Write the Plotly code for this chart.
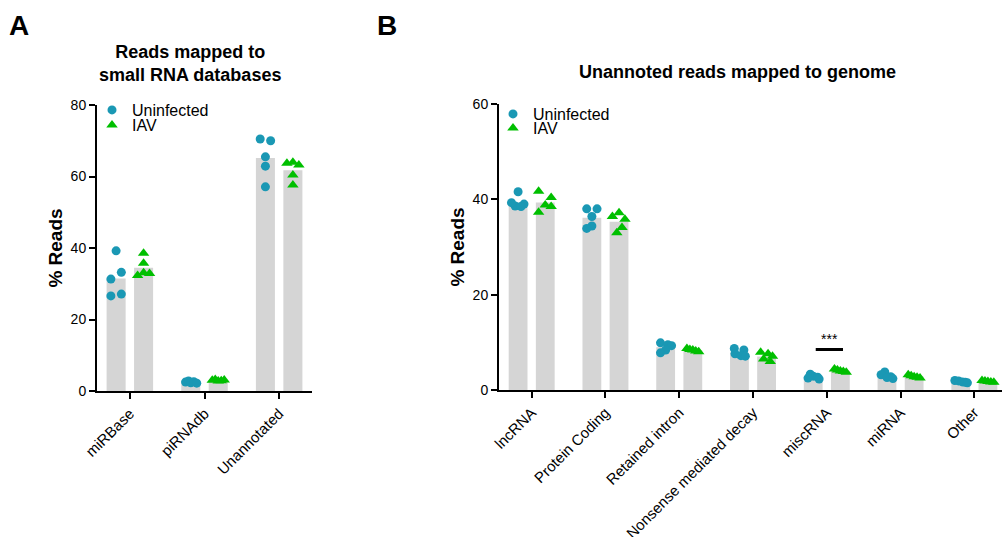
import numpy as np
import plotly.graph_objects as go

# ---------------- data ----------------
cats_a = ["miRBase", "piRNAdb", "Unannotated"]
uninf_a = [
    [39.2, 33.2, 31.3, 26.6, 27.1],
    [2.5, 2.8, 2.3, 2.6, 2.2],
    [70.5, 70.0, 65.5, 62.9, 57.1],
]
iav_a = [
    [38.5, 35.7, 32.3, 33.1, 32.9],
    [3.0, 3.2, 2.8, 2.9, 3.1],
    [63.7, 64.0, 63.2, 60.4, 57.6],
]

cats_b = ["lncRNA", "Protein Coding", "Retained intron", "Nonsense mediated decay",
          "miscRNA", "miRNA", "Other"]
uninf_b = [
    [41.6, 38.6, 39.0, 39.3, 38.5],
    [38.0, 38.0, 36.4, 34.4, 33.9],
    [9.9, 9.5, 9.3, 8.4, 7.8],
    [8.7, 8.4, 7.6, 7.2, 7.1],
    [3.3, 2.9, 2.7, 2.5, 2.3],
    [3.8, 3.2, 2.8, 2.6, 2.4],
    [2.0, 1.9, 1.7, 1.6, 1.5],
]
iav_b = [
    [41.7, 40.4, 38.8, 38.5, 37.3],
    [36.4, 37.2, 35.8, 34.1, 33.0],
    [8.7, 8.5, 8.4, 8.2, 8.0],
    [7.9, 7.6, 7.1, 6.5, 6.0],
    [4.4, 4.2, 4.0, 3.9, 3.7],
    [3.2, 3.0, 2.8, 2.7, 2.5],
    [2.0, 1.9, 1.8, 1.7, 1.6],
]
yticks_a = [0, 20, 40, 60, 80]
yticks_b = [0, 20, 40, 60]
sig_label = "***"
sig_cat = 4
sig_y = 8.5

# ---------------- style ----------------
FONT = "Liberation Sans, Arial, sans-serif"
C_UN = "#1a98b4"
C_IAV = "#00bf00"
C_BAR = "#d5d5d5"
OFF = 0.184
BW = 0.255
jit_a_u = [[0, 0.07, -0.07, -0.07, 0.07], [-0.07, -0.03, 0.0, 0.04, 0.08], [-0.07, 0.07, 0, 0, 0]]
jit_a_i = [[0, 0, -0.08, 0, 0.08], [-0.08, -0.04, 0.0, 0.04, 0.08], [-0.08, 0, 0.08, 0, 0]]
jit_b_u = [[0.0, -0.04, 0.08, -0.09, 0.04], [-0.07, 0.07, 0, 0, -0.07], [-0.07, 0.03, 0.08, 0.0, -0.07],
           [-0.07, 0.06, -0.06, 0.02, 0.08], [-0.04, 0.0, 0.06, -0.07, 0.08], [-0.03, -0.08, 0.05, 0.0, 0.08],
           [-0.08, -0.03, 0.02, 0.06, 0.09]]
jit_b_i = [[-0.09, 0.08, 0.0, 0.08, -0.09], [-0.09, 0.0, 0.08, 0.04, -0.03], [-0.08, -0.04, 0.0, 0.04, 0.08],
           [-0.08, 0.02, 0.08, -0.04, 0.05], [-0.08, -0.04, 0.0, 0.04, 0.08], [-0.08, -0.04, 0.0, 0.04, 0.08],
           [-0.08, -0.04, 0.0, 0.04, 0.08]]

fig = go.Figure()


def add_panel(cats, un, iv, ju, ji, xa, ya, leg_u, leg_i):
    idx = np.arange(len(cats))
    mu = [float(np.mean(v)) for v in un]
    mi = [float(np.mean(v)) for v in iv]
    fig.add_trace(go.Bar(x=idx - OFF, y=mu, width=BW, marker_color=C_BAR, marker_line_width=0,
                         showlegend=False, xaxis=xa, yaxis=ya, hoverinfo="skip"))
    fig.add_trace(go.Bar(x=idx + OFF, y=mi, width=BW, marker_color=C_BAR, marker_line_width=0,
                         showlegend=False, xaxis=xa, yaxis=ya, hoverinfo="skip"))
    xu, yu, xi, yi = [], [], [], []
    for k in range(len(cats)):
        for v, j in zip(un[k], ju[k]):
            xu.append(k - OFF + j); yu.append(v)
        for v, j in zip(iv[k], ji[k]):
            xi.append(k + OFF + j); yi.append(v)
    fig.add_trace(go.Scatter(x=xu, y=yu, mode="markers", name="Uninfected",
                             marker=dict(symbol="circle", size=9, color=C_UN),
                             xaxis=xa, yaxis=ya, legend=leg_u, showlegend=True))
    fig.add_trace(go.Scatter(x=xi, y=yi, mode="markers", name="IAV",
                             marker=dict(symbol="triangle-up", size=10, color=C_IAV),
                             xaxis=xa, yaxis=ya, legend=leg_i, showlegend=True))


add_panel(cats_a, uninf_a, iav_a, jit_a_u, jit_a_i, "x", "y", "legend", "legend2")
add_panel(cats_b, uninf_b, iav_b, jit_b_u, jit_b_i, "x2", "y2", "legend3", "legend4")

W, H = 1002, 537
axis_common = dict(showline=True, linecolor="black", linewidth=2, ticks="outside", ticklen=6,
                   tickwidth=2, tickcolor="black", showgrid=False, zeroline=False, automargin=False)
xfont = dict(family=FONT, size=15, color="black")
yfont = dict(family=FONT, size=14, color="black")


def leg(xpx, ypx):
    return dict(x=xpx / W, y=(H - ypx) / H, xanchor="left", yanchor="middle", bgcolor="rgba(0,0,0,0)",
                font=dict(family=FONT, size=16, color="black"), borderwidth=0)


fig.update_layout(
    width=W, height=H, margin=dict(l=0, r=0, t=0, b=0, autoexpand=False),
    plot_bgcolor="white", paper_bgcolor="white",
    barmode="overlay", showlegend=True,
    font=dict(family=FONT, color="black"),
    xaxis=dict(domain=[97 / W, 312 / W], range=[-0.44, 2.44], tickvals=list(range(len(cats_a))),
               ticktext=cats_a, tickangle=-45, anchor="y", tickfont=xfont, **axis_common),
    yaxis=dict(domain=[(H - 391) / H, (H - 105) / H], range=[0, 80], tickvals=yticks_a, anchor="x",
               title=dict(text="<b>% Reads</b>", font=dict(family=FONT, size=19), standoff=3),
               tickfont=yfont, **axis_common),
    xaxis2=dict(domain=[499 / W, 1.0], range=[-0.443, 6.375], tickvals=list(range(len(cats_b))),
                ticktext=cats_b, tickangle=-45, anchor="y2", tickfont=xfont, **axis_common),
    yaxis2=dict(domain=[(H - 390) / H, (H - 104) / H], range=[0, 60], tickvals=yticks_b, anchor="x2",
                title=dict(text="<b>% Reads</b>", font=dict(family=FONT, size=19), standoff=3),
                tickfont=yfont, **axis_common),
    legend=leg(92, 110),
    legend2=leg(92, 125),
    legend3=leg(493, 114),
    legend4=leg(493, 128),
)

# significance bar
fig.add_shape(type="line", xref="x2", yref="y2", x0=sig_cat - 0.15, x1=sig_cat + 0.22,
              y0=sig_y, y1=sig_y, line=dict(color="black", width=3))
fig.add_annotation(xref="x2", yref="y2", x=sig_cat + 0.03, y=sig_y, yshift=10, text=sig_label,
                   showarrow=False, font=dict(family=FONT, size=14, color="black"))


def ann(xpx, ypx, text, size):
    fig.add_annotation(xref="paper", yref="paper", x=xpx / W, y=(H - ypx) / H, text=text,
                       xanchor="center", yanchor="middle", showarrow=False, align="center",
                       font=dict(family=FONT, size=size, color="black"))


ann(190, 64, "<b>Reads mapped to<br>small RNA databases</b>", 18)
ann(737, 72, "<b>Unannoted reads mapped to genome</b>", 18)
ann(19, 25, "<b>A</b>", 28)
ann(387, 25, "<b>B</b>", 28)

fig.write_html("out.html")
